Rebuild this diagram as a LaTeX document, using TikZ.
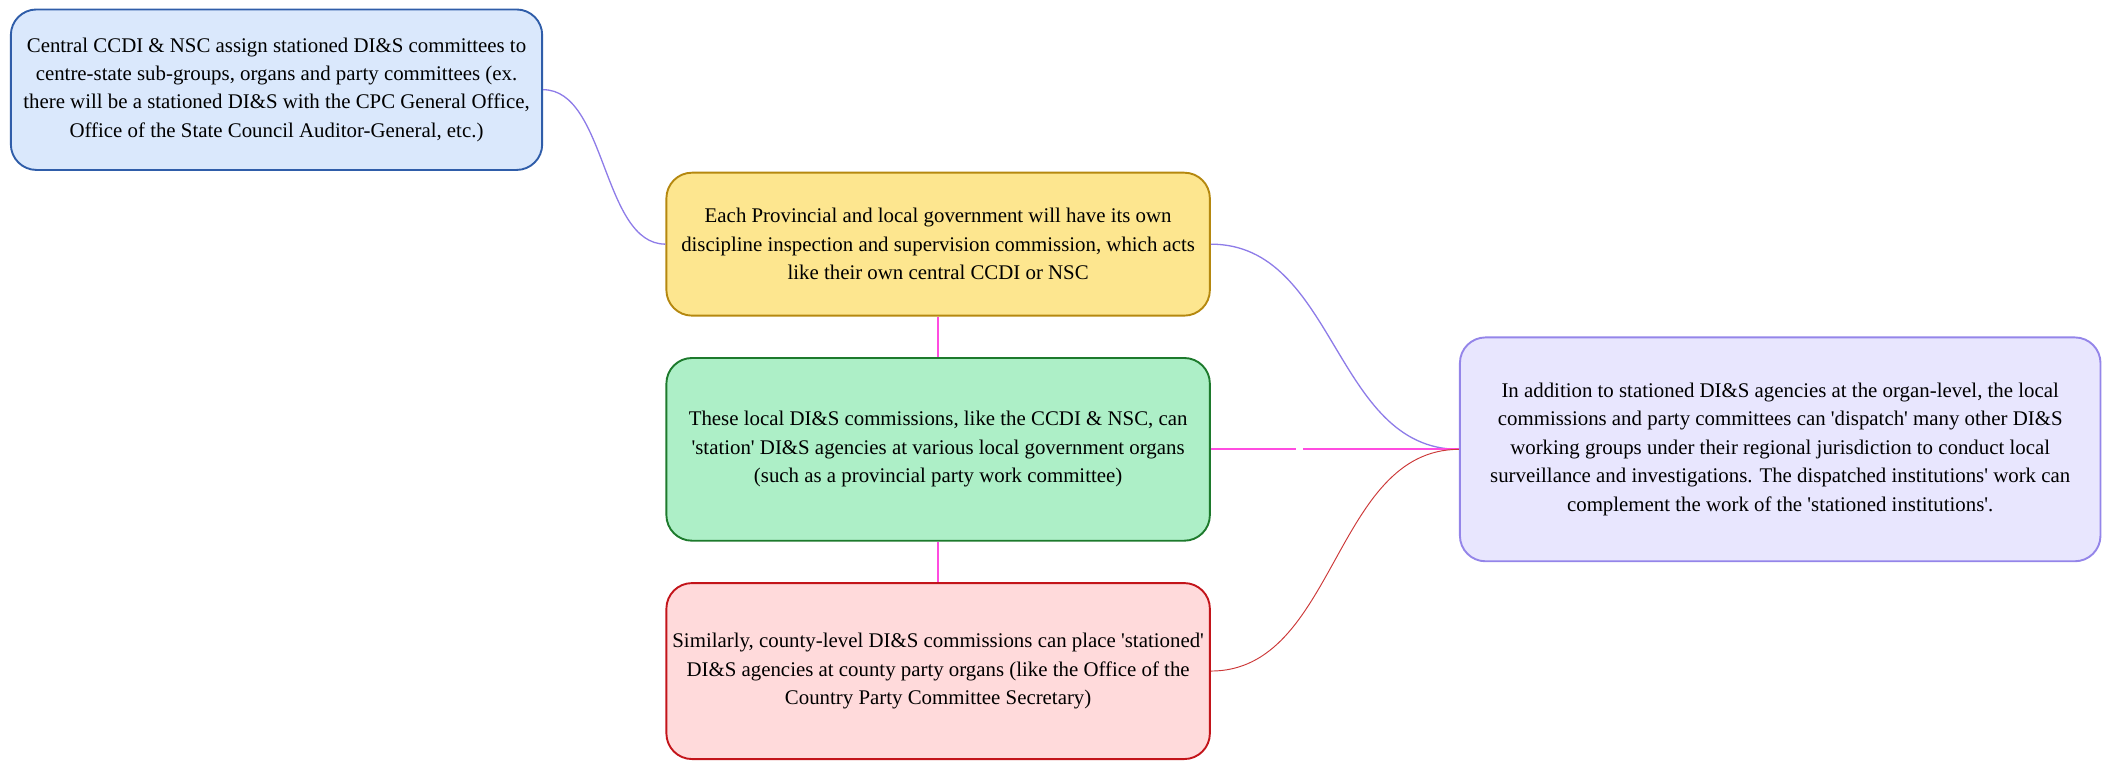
\documentclass[tikz,border=0pt]{standalone}
\usepackage{fontspec}
\setmainfont{Liberation Serif}[Ligatures=TeXOff]
\usetikzlibrary{positioning}
\definecolor{bluefill}{HTML}{DAE8FC}
\definecolor{blueedge}{HTML}{2F5DA9}
\definecolor{yellowfill}{HTML}{FDE68F}
\definecolor{yellowedge}{HTML}{B5880F}
\definecolor{greenfill}{HTML}{ADEFC7}
\definecolor{greenedge}{HTML}{1D7A2C}
\definecolor{redfill}{HTML}{FFDADB}
\definecolor{rededge}{HTML}{C3141A}
\definecolor{purplefill}{HTML}{E8E6FE}
\definecolor{purpleedge}{HTML}{9485E9}
\definecolor{linkpurple}{HTML}{8E7CE8}
\definecolor{linkpink}{HTML}{FF4CE0}
\definecolor{linkred}{HTML}{CC3838}
\begin{document}
\begin{tikzpicture}[x=0.02cm,y=-0.02cm,
box/.style={draw,rounded corners=0.38cm,line width=0.8pt,align=center,inner sep=0pt,
font=\fontsize{8.8}{12}\selectfont},
wide/.style={box,minimum width=80.6mm},
purplelink/.style={draw=linkpurple,line width=0.55pt},
pinklink/.style={draw=linkpink,line width=0.85pt},
redlink/.style={draw=linkred,line width=0.4pt}]
\useasboundingbox (0,0) rectangle (1568,570.85);
\node[box,fill=bluefill,draw=blueedge,minimum width=78.8mm,minimum height=23.8mm] (central) at (205,66.5)
{Central CCDI \& NSC assign stationed DI\&S committees to\\
centre-state sub-groups, organs and party committees (ex.\\
there will be a stationed DI\&S with the CPC General Office,\\
Office of the State Council Auditor-General, etc.)};
\node[wide,fill=yellowfill,draw=yellowedge,minimum height=21.2mm] (provincial) at (695.5,181)
{Each Provincial and local government will have its own\\
discipline inspection and supervision commission, which acts\\
like their own central CCDI or NSC};
\node[wide,fill=greenfill,draw=greenedge,minimum height=27.1mm,below=6mm of provincial] (local)
{These local DI\&S commissions, like the CCDI \& NSC, can\\
'station' DI\&S agencies at various local government organs\\
(such as a provincial party work committee)};
\node[wide,fill=redfill,draw=rededge,minimum height=26.1mm,below=6mm of local] (county)
{Similarly, county-level DI\&S commissions can place 'stationed'\\
DI\&S agencies at county party organs (like the Office of the\\
Country Party Committee Secretary)};
\node[box,fill=purplefill,draw=purpleedge,minimum width=95mm,minimum height=33.2mm,right=36.8mm of local] (dispatch)
{In addition to stationed DI\&S agencies at the organ-level, the local\\
commissions and party committees can 'dispatch' many other DI\&S\\
working groups under their regional jurisdiction to conduct local\\
surveillance and investigations. The dispatched institutions' work can\\
complement the work of the 'stationed institutions'.};
\draw[pinklink] (provincial) -- (local);
\draw[pinklink] (local) -- (county);
\draw[purplelink] (central.east) .. controls +(47,0) and +(-47,0) .. (provincial.west);
\draw[purplelink] (provincial.east) .. controls +(93,0) and +(-93,0) .. (dispatch.west);
\draw[pinklink,dash pattern=on 12.6mm off 1.1mm on 40mm] (local.east) -- (dispatch.west);
\draw[redlink] (county.east) .. controls +(93,0) and +(-93,0) .. (dispatch.west);
\end{tikzpicture}
\end{document}
